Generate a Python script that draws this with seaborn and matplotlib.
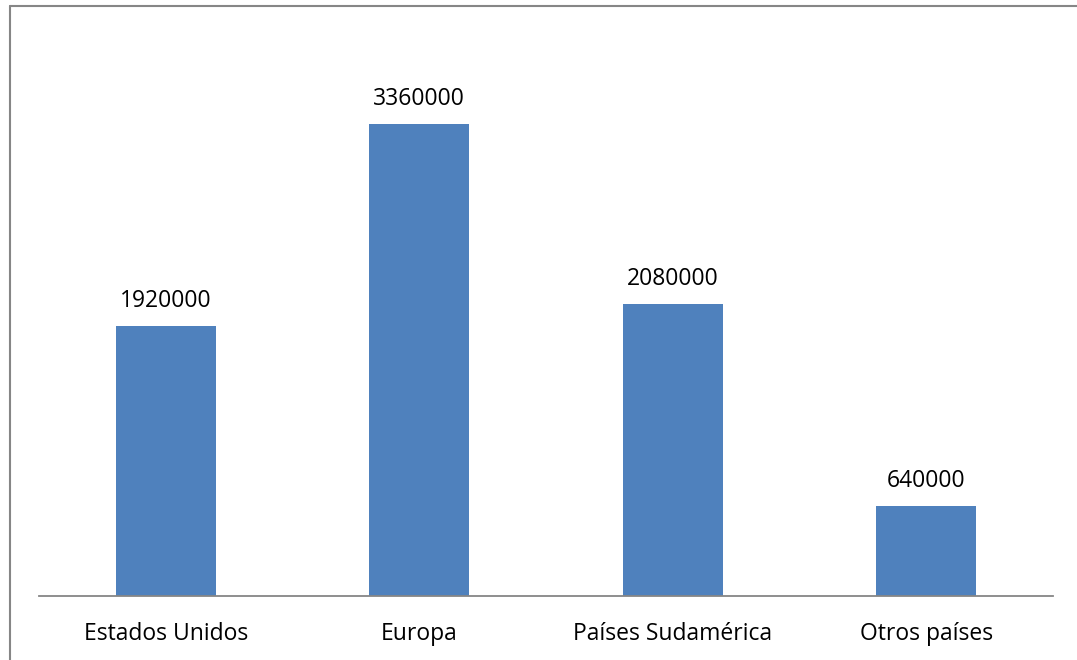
import matplotlib
matplotlib.use("Agg")
import matplotlib.pyplot as plt
from matplotlib.lines import Line2D
import seaborn as sns
import pandas as pd

regions = ["Estados Unidos", "Europa", "Países Sudamérica", "Otros países"]
values = [1920000, 3360000, 2080000, 640000]

df = pd.DataFrame({"region": regions, "valor": values})

sns.set_style("white")
plt.rcParams['font.family'] = ['Open Sans', 'DejaVu Sans']

W, H = 1077, 660
fig = plt.figure(figsize=(W / 100, H / 100), dpi=100)
ax = fig.add_axes([39 / W, (H - 596) / H, (1053 - 39) / W, (596 - 34) / H])

sns.barplot(data=df, x="region", y="valor", color="#4F81BD", saturation=1,
            width=0.395, linewidth=0, ax=ax)
ax.set_ylim(0, 4000000)
ax.set_xlim(-0.5, 3.5)

for i, v in enumerate(values):
    ax.annotate(str(v), (i, v), xytext=(0, 9.5), textcoords="offset points",
                ha="center", va="bottom", fontsize=16.5, color="black")

for s in ["top", "right", "left"]:
    ax.spines[s].set_visible(False)
ax.spines["bottom"].set_color("#868686")
ax.spines["bottom"].set_linewidth(1.3)
ax.set_yticks([])
ax.set_xlabel("")
ax.set_ylabel("")
ax.tick_params(axis="x", length=0, labelsize=16.5, pad=18.5, colors="black")

# chart border (left and top only)
fig.add_artist(Line2D([10 / W, 10 / W], [0, 1 - 5.5 / H], color="#868686", lw=1.5))
fig.add_artist(Line2D([10 / W, 1], [1 - 5.5 / H, 1 - 5.5 / H], color="#868686", lw=1.5))

fig.savefig("out.png", dpi=100)
